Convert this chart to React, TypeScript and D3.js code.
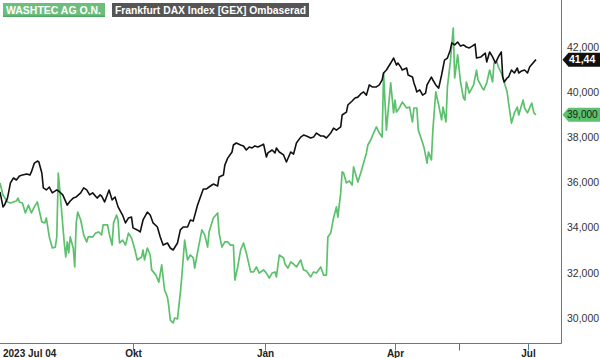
import React from "react";
import * as d3 from "d3";

const W = 600;
const H = 358;

// Frankfurt DAX Index, rebased onto the WashTec scale
const dax: [string, number][] = [
  ["2023-07-04", 35.58], ["2023-07-06", 34.92], ["2023-07-07", 35.0], ["2023-07-09", 35.31], ["2023-07-11", 35.98],
  ["2023-07-13", 36.2], ["2023-07-15", 36.11], ["2023-07-17", 36.29], ["2023-07-19", 36.33], ["2023-07-22", 36.38],
  ["2023-07-24", 36.33], ["2023-07-25", 36.47], ["2023-07-27", 36.86], ["2023-07-29", 36.95], ["2023-07-30", 36.91],
  ["2023-08-01", 36.42], ["2023-08-02", 35.76], ["2023-08-04", 35.67], ["2023-08-06", 35.8], ["2023-08-08", 35.54],
  ["2023-08-11", 35.67], ["2023-08-13", 35.58], ["2023-08-15", 35.45], ["2023-08-18", 35.0], ["2023-08-20", 35.18],
  ["2023-08-22", 35.31], ["2023-08-24", 35.36], ["2023-08-27", 35.54], ["2023-08-29", 35.76], ["2023-08-31", 35.67],
  ["2023-09-02", 35.45], ["2023-09-04", 35.54], ["2023-09-07", 35.31], ["2023-09-09", 35.45], ["2023-09-10", 35.4],
  ["2023-09-12", 35.14], ["2023-09-15", 35.67], ["2023-09-17", 35.23], ["2023-09-19", 35.36], ["2023-09-21", 34.92],
  ["2023-09-24", 34.56], ["2023-09-26", 34.21], ["2023-09-28", 34.43], ["2023-09-30", 34.47],
  ["2023-10-01", 33.99], ["2023-10-04", 33.9], ["2023-10-06", 33.81], ["2023-10-08", 34.34], ["2023-10-11", 34.69],
  ["2023-10-13", 34.56], ["2023-10-15", 34.21], ["2023-10-18", 34.03], ["2023-10-20", 33.59], ["2023-10-22", 33.23],
  ["2023-10-25", 33.32], ["2023-10-27", 33.1], ["2023-10-29", 33.01],
  ["2023-11-01", 33.32], ["2023-11-03", 33.9], ["2023-11-05", 34.03], ["2023-11-08", 34.03], ["2023-11-10", 34.34],
  ["2023-11-12", 34.3], ["2023-11-15", 35.0], ["2023-11-17", 35.36], ["2023-11-19", 35.71], ["2023-11-21", 35.71],
  ["2023-11-23", 35.8], ["2023-11-25", 35.89], ["2023-11-26", 35.93], ["2023-11-29", 35.85], ["2023-11-30", 36.24],
  ["2023-12-03", 36.33], ["2023-12-04", 36.77], ["2023-12-06", 37.08], ["2023-12-09", 37.35], ["2023-12-10", 37.66],
  ["2023-12-12", 37.75], ["2023-12-15", 37.66], ["2023-12-17", 37.62], ["2023-12-19", 37.44], ["2023-12-21", 37.57],
  ["2023-12-23", 37.53], ["2023-12-25", 37.62], ["2023-12-27", 37.57], ["2023-12-30", 37.66], ["2023-12-31", 37.7],
  ["2024-01-02", 37.13], ["2024-01-03", 37.31], ["2024-01-06", 37.44], ["2024-01-08", 37.31], ["2024-01-09", 37.53],
  ["2024-01-11", 37.35], ["2024-01-14", 37.22], ["2024-01-16", 36.91], ["2024-01-19", 37.35], ["2024-01-21", 37.26],
  ["2024-01-23", 37.75], ["2024-01-26", 38.01], ["2024-01-28", 38.1], ["2024-01-30", 38.06],
  ["2024-02-02", 37.97], ["2024-02-04", 38.01], ["2024-02-06", 38.19], ["2024-02-09", 38.06], ["2024-02-11", 38.06],
  ["2024-02-13", 37.97], ["2024-02-16", 38.19], ["2024-02-18", 38.41], ["2024-02-20", 38.32], ["2024-02-23", 38.46],
  ["2024-02-24", 38.99], ["2024-02-27", 39.12], ["2024-02-28", 39.43],
  ["2024-03-02", 39.61], ["2024-03-04", 39.74], ["2024-03-06", 39.78], ["2024-03-08", 39.92], ["2024-03-10", 40.01],
  ["2024-03-12", 39.87], ["2024-03-14", 40.32], ["2024-03-16", 40.23], ["2024-03-19", 40.23], ["2024-03-21", 40.32],
  ["2024-03-23", 40.54], ["2024-03-24", 40.85], ["2024-03-26", 40.98], ["2024-03-29", 41.29], ["2024-03-31", 41.51],
  ["2024-04-02", 41.2], ["2024-04-03", 41.29], ["2024-04-05", 41.11], ["2024-04-06", 40.98], ["2024-04-09", 41.07],
  ["2024-04-10", 40.76], ["2024-04-13", 40.67], ["2024-04-14", 40.41], ["2024-04-15", 40.23], ["2024-04-16", 40.01],
  ["2024-04-18", 40.1], ["2024-04-20", 39.87], ["2024-04-22", 39.96], ["2024-04-23", 40.32], ["2024-04-26", 40.67],
  ["2024-04-27", 40.54], ["2024-04-29", 40.32],
  ["2024-05-01", 40.18], ["2024-05-03", 40.76], ["2024-05-05", 41.42], ["2024-05-07", 41.51], ["2024-05-09", 41.87],
  ["2024-05-10", 42.18], ["2024-05-12", 42.09], ["2024-05-14", 42.22], ["2024-05-16", 42.04], ["2024-05-18", 42.09],
  ["2024-05-20", 42.0], ["2024-05-22", 41.96], ["2024-05-24", 42.04], ["2024-05-26", 42.13], ["2024-05-27", 41.51],
  ["2024-05-30", 41.56],
  ["2024-06-02", 41.73], ["2024-06-03", 41.34], ["2024-06-05", 41.78], ["2024-06-07", 41.56], ["2024-06-09", 41.29],
  ["2024-06-11", 41.56], ["2024-06-13", 41.78], ["2024-06-14", 40.67], ["2024-06-15", 40.45], ["2024-06-17", 40.63],
  ["2024-06-18", 40.67], ["2024-06-20", 40.98], ["2024-06-22", 40.85], ["2024-06-24", 41.07], ["2024-06-25", 40.85],
  ["2024-06-27", 40.94], ["2024-06-29", 40.98],
  ["2024-07-01", 40.85], ["2024-07-02", 41.11], ["2024-07-04", 41.34], ["2024-07-05", 41.44],
];

// WASHTEC AG O.N.
const washtec: [string, number][] = [
  ["2023-07-04", 35.98], ["2023-07-06", 35.45], ["2023-07-09", 35.14], ["2023-07-11", 35.09], ["2023-07-13", 35.14],
  ["2023-07-15", 35.18], ["2023-07-16", 35.31], ["2023-07-17", 35.14], ["2023-07-19", 35.09], ["2023-07-21", 34.65],
  ["2023-07-23", 35.0], ["2023-07-25", 34.65], ["2023-07-27", 34.92], ["2023-07-29", 35.14],
  ["2023-08-01", 34.25], ["2023-08-03", 34.21], ["2023-08-04", 34.43], ["2023-08-06", 33.59], ["2023-08-08", 33.1],
  ["2023-08-10", 33.14], ["2023-08-11", 33.59], ["2023-08-12", 36.42], ["2023-08-14", 34.92], ["2023-08-16", 33.32],
  ["2023-08-17", 32.7], ["2023-08-18", 33.37], ["2023-08-19", 32.88], ["2023-08-20", 33.59], ["2023-08-22", 33.1],
  ["2023-08-23", 32.26], ["2023-08-24", 34.21], ["2023-08-25", 34.69], ["2023-08-27", 34.34], ["2023-08-29", 33.68],
  ["2023-08-31", 33.37],
  ["2023-09-01", 33.59], ["2023-09-04", 33.59], ["2023-09-06", 33.76], ["2023-09-08", 33.81], ["2023-09-10", 33.68],
  ["2023-09-11", 34.12], ["2023-09-14", 34.12], ["2023-09-15", 33.76], ["2023-09-17", 33.23], ["2023-09-18", 34.21],
  ["2023-09-20", 34.56], ["2023-09-21", 34.34], ["2023-09-22", 33.32], ["2023-09-24", 33.45], ["2023-09-26", 33.23],
  ["2023-09-28", 33.76], ["2023-09-30", 33.54],
  ["2023-10-02", 33.1], ["2023-10-04", 32.57], ["2023-10-07", 32.7], ["2023-10-08", 33.01], ["2023-10-09", 32.57],
  ["2023-10-11", 33.1], ["2023-10-13", 32.79], ["2023-10-14", 32.13], ["2023-10-17", 31.9], ["2023-10-19", 31.59],
  ["2023-10-21", 32.35], ["2023-10-23", 31.24], ["2023-10-25", 30.93], ["2023-10-26", 30.49], ["2023-10-27", 29.91],
  ["2023-10-29", 29.78], ["2023-10-30", 30.0],
  ["2023-11-01", 29.96], ["2023-11-03", 31.11], ["2023-11-04", 31.82], ["2023-11-06", 33.45], ["2023-11-08", 32.57],
  ["2023-11-10", 32.79], ["2023-11-12", 32.66], ["2023-11-13", 32.21], ["2023-11-15", 32.92], ["2023-11-18", 33.9],
  ["2023-11-20", 33.68], ["2023-11-22", 33.14], ["2023-11-23", 33.81], ["2023-11-26", 34.43], ["2023-11-29", 34.65],
  ["2023-11-30", 33.76],
  ["2023-12-02", 33.14], ["2023-12-04", 33.37], ["2023-12-06", 33.37], ["2023-12-08", 33.23], ["2023-12-10", 33.23],
  ["2023-12-11", 31.68], ["2023-12-13", 32.26], ["2023-12-15", 33.01], ["2023-12-17", 33.32], ["2023-12-19", 32.88],
  ["2023-12-22", 32.04], ["2023-12-24", 32.04], ["2023-12-26", 32.26], ["2023-12-28", 31.99], ["2023-12-30", 32.08],
  ["2023-12-31", 32.13],
  ["2024-01-02", 31.99], ["2024-01-04", 31.77], ["2024-01-06", 31.99], ["2024-01-08", 32.04], ["2024-01-09", 31.82],
  ["2024-01-11", 32.79], ["2024-01-14", 32.66], ["2024-01-15", 32.39], ["2024-01-17", 32.21], ["2024-01-19", 32.48],
  ["2024-01-21", 32.39], ["2024-01-23", 32.26], ["2024-01-26", 32.57], ["2024-01-28", 32.13], ["2024-01-30", 32.08],
  ["2024-02-02", 31.82], ["2024-02-04", 32.04], ["2024-02-06", 31.99], ["2024-02-09", 32.26], ["2024-02-11", 31.9],
  ["2024-02-13", 31.9], ["2024-02-14", 33.59], ["2024-02-16", 33.76], ["2024-02-18", 34.43], ["2024-02-20", 34.92],
  ["2024-02-21", 34.47], ["2024-02-23", 35.54], ["2024-02-24", 36.47], ["2024-02-25", 36.42], ["2024-02-27", 35.98],
  ["2024-02-29", 36.07],
  ["2024-03-02", 35.89], ["2024-03-03", 36.69], ["2024-03-05", 36.24], ["2024-03-06", 36.02], ["2024-03-08", 36.42],
  ["2024-03-10", 36.86], ["2024-03-12", 37.31], ["2024-03-13", 37.66], ["2024-03-15", 37.88], ["2024-03-17", 38.19],
  ["2024-03-19", 38.46], ["2024-03-21", 38.19], ["2024-03-23", 38.01], ["2024-03-24", 40.85], ["2024-03-26", 38.32],
  ["2024-03-29", 40.41], ["2024-03-31", 39.08],
  ["2024-04-01", 39.65], ["2024-04-02", 39.12], ["2024-04-04", 39.3], ["2024-04-06", 39.56], ["2024-04-09", 39.3],
  ["2024-04-11", 39.34], ["2024-04-13", 38.68], ["2024-04-14", 39.3], ["2024-04-16", 39.3], ["2024-04-17", 38.32],
  ["2024-04-20", 37.75], ["2024-04-21", 37.53], ["2024-04-23", 36.86], ["2024-04-24", 37.35], ["2024-04-26", 37.0],
  ["2024-04-27", 38.32], ["2024-04-29", 40.01],
  ["2024-05-01", 39.43], ["2024-05-03", 38.77], ["2024-05-04", 39.34], ["2024-05-06", 38.68], ["2024-05-07", 40.23],
  ["2024-05-09", 41.34], ["2024-05-11", 42.84], ["2024-05-12", 40.63], ["2024-05-14", 41.65], ["2024-05-16", 40.45],
  ["2024-05-18", 39.74], ["2024-05-19", 39.65], ["2024-05-20", 40.45], ["2024-05-22", 39.96], ["2024-05-25", 40.32],
  ["2024-05-27", 40.98], ["2024-05-28", 40.54], ["2024-05-31", 40.18],
  ["2024-06-01", 40.1], ["2024-06-03", 40.41], ["2024-06-05", 40.98], ["2024-06-07", 40.45], ["2024-06-08", 41.29],
  ["2024-06-10", 41.34], ["2024-06-11", 41.11], ["2024-06-13", 40.85], ["2024-06-15", 40.45], ["2024-06-17", 40.01],
  ["2024-06-18", 39.52], ["2024-06-20", 38.63], ["2024-06-22", 39.08], ["2024-06-24", 39.34], ["2024-06-25", 38.99],
  ["2024-06-28", 39.65], ["2024-06-29", 39.3],
  ["2024-07-01", 39.08], ["2024-07-03", 39.52], ["2024-07-04", 39.08], ["2024-07-05", 39.0],
];

const yTicks = [30, 32, 34, 36, 38, 40, 42];
const monthTicks: [string, string][] = [
  ["2023-10-01", "Okt"],
  ["2024-01-01", "Jan"],
  ["2024-04-01", "Apr"],
  ["2024-07-01", "Jul"],
];
const startLabel = "2023 Jul 04";
const eventDates = ["2024-05-15"];
const legendLabels = ["WASHTEC AG O.N.", "Frankfurt DAX Index [GEX] Ombaserad"];
const scaleAnchors = ["2023-07-04", "2023-10-01", "2024-01-01", "2024-04-01", "2024-07-01", "2024-07-05"];

const GREEN = "#5cc16d";
const BLACK = "#111111";
const AXIS = "#4a7fa6";

export default function App() {
  const parse = d3.utcParse("%Y-%m-%d");
  const x = d3
    .scaleUtc()
    .domain(scaleAnchors.map((s) => parse(s) as Date))
    .range([0, 133, 265, 395, 527.5, 536]);
  const y = d3.scaleLinear().domain([30, 42]).range([318, 47]);

  const locale = d3.formatLocale({ decimal: ",", thousands: ".", grouping: [3], currency: ["", ""] });
  const f3 = locale.format(".3f");
  const f2 = locale.format(".2f");

  const line = d3
    .line<[string, number]>()
    .x((d) => x(parse(d[0]) as Date))
    .y((d) => y(d[1]));

  const plotRight = 561.5;
  const plotBottom = 343.5;

  const lastDax = dax[dax.length - 1][1];
  const lastWash = washtec[washtec.length - 1][1];

  const tag = (v: number) => {
    const cy = y(v);
    return `M${plotRight + 1},${cy} L${plotRight + 7},${cy - 7} L${W},${cy - 7} L${W},${cy + 7} L${plotRight + 7},${cy + 7} Z`;
  };

  return (
    <svg
      width={W}
      height={H}
      style={{ position: "absolute", left: 0, top: 0, display: "block", background: "#fff" }}
      fontFamily="'Liberation Sans', Arial, sans-serif"
    >
      <rect x={0} y={0} width={W} height={H} fill="#fff" />
      {/* series */}
      <path d={line(washtec) || ""} fill="none" stroke={GREEN} strokeWidth={1.7} strokeLinejoin="round" />
      <path d={line(dax) || ""} fill="none" stroke={BLACK} strokeWidth={1.6} strokeLinejoin="round" />

      {/* axes frame */}
      <line x1={plotRight} y1={0} x2={plotRight} y2={plotBottom} stroke={AXIS} strokeWidth={1} />
      <line x1={0} y1={plotBottom} x2={plotRight} y2={plotBottom} stroke={AXIS} strokeWidth={1} />

      {/* y labels */}
      {yTicks.map((t) => (
        <text key={t} x={567} y={y(t)} dy="0.35em" fontSize={10.5} fill="#333">
          {f3(t)}
        </text>
      ))}

      {/* x ticks */}
      {monthTicks.map(([d, lbl]) => {
        const xx = Math.round(x(parse(d) as Date)) + 0.5;
        return (
          <g key={d}>
            <line x1={xx} y1={plotBottom} x2={xx} y2={plotBottom + 7} stroke={AXIS} strokeWidth={1} />
            <text x={xx} y={357} textAnchor="middle" fontSize={10} fontWeight="bold" fill="#222">
              {lbl}
            </text>
          </g>
        );
      })}
      {eventDates.map((d) => {
        const xx = Math.round(x(parse(d) as Date)) + 0.5;
        return <line key={d} x1={xx} y1={plotBottom} x2={xx} y2={plotBottom + 7} stroke="#e8333a" strokeWidth={1} />;
      })}
      <text x={3} y={357} fontSize={10} fontWeight="bold" fill="#222">
        {startLabel}
      </text>

      {/* last value tags */}
      <path d={tag(lastDax)} fill={BLACK} />
      <text x={569} y={y(lastDax)} dy="0.35em" fontSize={10.5} fontWeight="bold" fill="#fff">
        {f2(lastDax)}
      </text>
      <path d={tag(lastWash)} fill={GREEN} />
      <text x={567} y={y(lastWash)} dy="0.35em" fontSize={10} fill="#1a1a1a">
        {f3(lastWash)}
      </text>

      {/* legend */}
      <rect x={3} y={3} width={102} height={14} fill="#6dbd7d" />
      <rect x={3} y={15.5} width={102} height={1.5} fill="#4fa862" />
      <text x={6} y={14} fontSize={11} fontWeight="bold" fill="#fff" textLength={95} lengthAdjust="spacingAndGlyphs">
        {legendLabels[0]}
      </text>
      <rect x={112} y={3} width={197} height={14} fill="#555" />
      <text x={115} y={14} fontSize={11} fontWeight="bold" fill="#fff" textLength={191} lengthAdjust="spacingAndGlyphs">
        {legendLabels[1]}
      </text>
    </svg>
  );
}
